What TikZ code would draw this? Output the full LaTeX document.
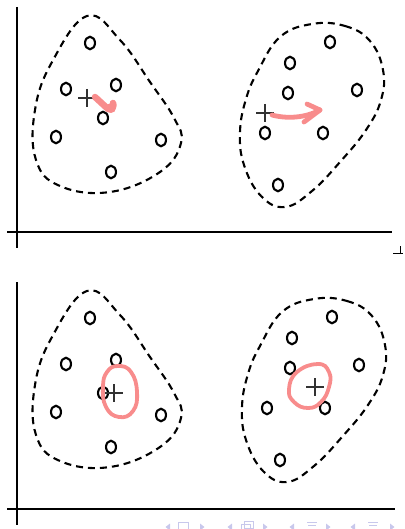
\documentclass[tikz,border=0pt]{standalone}
\usepackage{tikz}
\usetikzlibrary{arrows.meta,calc,positioning,shapes.geometric}
\definecolor{MarkPink}{RGB}{248,140,140}
\definecolor{PlusGray}{RGB}{50,50,50}
\definecolor{NavBlue}{RGB}{200,200,236}

\begin{document}
\begin{tikzpicture}[x=1pt,y=-1pt,
    axis/.style={line width=2.3pt,black},
    datum/.style={ellipse,draw,line width=2.1pt,inner sep=0pt,
      minimum width=10pt,minimum height=12.5pt},
    hull/.style={dash pattern=on 7pt off 5pt,line width=2.1pt},
    cent/.style={line width=1.7pt,PlusGray},
    stroke/.style={MarkPink,line width=5pt,line cap=round,line join=round},
    navsym/.style={fill=NavBlue,draw=NavBlue,line width=.6pt}]
  \useasboundingbox (0,0) rectangle (404,529);
  % axes
  \draw[axis] (17,7) -- (17,248);
  \draw[axis] (7,232) -- (392,232);
  \draw[axis] (17,282) -- (17,525);
  \draw[axis] (7,509) -- (395,509);
  \draw[line width=1pt] (400,246) -- (400,253) (393,253) -- (403,253);
  % the two clusters, before (t) and after (b)
  \foreach \dx/\dy/\p in {0/0/t,2/275/b}{
    \begin{scope}[shift={(0,\dy)}]
      \foreach \x/\y [count=\i] in {90/43,66/89,116/85,103/118,56/137,161/140,111/172}
        \node[datum] (\p L\i) at (\x,\y) {};
      \draw[hull] plot[smooth cycle,tension=.7] coordinates {(87,16) (120,40)
        (150,82) (174,118) (181,143) (160,172) (110,192) (60,186) (36,160)
        (35,110) (52,62)};
    \end{scope}
    \begin{scope}[shift={(\dx,\dy)}]
      \foreach \x/\y [count=\i] in {330/42,290/63,288/93,357/90,265/133,323/133,278/185}
        \node[datum] (\p R\i) at (\x,\y) {};
      \draw[hull] plot[smooth cycle,tension=.7] coordinates {(312,24) (345,26)
        (370,41) (383,70) (381,100) (366,130) (340,162) (312,191) (285,207)
        (261,196) (244,165) (240,132) (246,99) (258,71) (280,37)};
    \end{scope}
  }
  % centroids
  \coordinate (tLc) at (87,98);
  \coordinate (tRc) at (265,113);
  \coordinate (bLc) at (114,393);
  \coordinate (bRc) at (315,387);
  \foreach \c in {tLc,tRc,bLc,bRc}
    \draw[cent] (\c) ++(-9,0) -- ++(18,0) (\c) ++(0,-9) -- ++(0,18);
  % pink marks
  \coordinate (tLa) at (95,97);
  \coordinate (tLb) at (108,109);
  \draw[stroke,line width=6.5pt] (tLa) -- (tLb) .. controls (111,111) and (115,106) .. (113,103);
  \fill[MarkPink] (111,108) circle (5pt);
  \coordinate (tRa) at (272,115);
  \coordinate (tRb) at (320,110);
  \draw[stroke,line width=4.8pt] (tRa) .. controls (287,119) and (305,118) .. (tRb);
  \draw[stroke,line width=4.8pt] (307,104) -- (tRb) -- (304,122);
  \draw[stroke,line width=3.8pt] plot[smooth cycle,tension=.8] coordinates {
    (118,366) (131,372) (137,392) (133,411) (119,417) (106,407) (103,387) (107,372)};
  \draw[stroke,line width=3.8pt] plot[smooth cycle,tension=.8] coordinates {
    (318,364) (329,372) (329,387) (321,402) (308,408) (294,402) (289,389) (297,372)};
  % navigation symbols
  \foreach \x in {168,230,292,353}
    \fill[NavBlue] (\x-2.5,527) -- (\x+2,523.5) -- (\x+2,530.5) -- cycle;
  \foreach \x in {202,265,328,392}
    \fill[NavBlue] (\x+2.5,527) -- (\x-2,523.5) -- (\x-2,530.5) -- cycle;
  \draw[NavBlue,line width=1pt] (178,522) rectangle (188,531);
  \draw[NavBlue,line width=1pt] (241,524) rectangle (250,531) (244,521) rectangle (253,528);
  \foreach \x in {312,373}
    \draw[NavBlue,line width=1pt] (\x-5,522) -- (\x+5,522) (\x-4,525.5) -- (\x+4,525.5)
      (\x-5,529) -- (\x+5,529);
\end{tikzpicture}
\end{document}
